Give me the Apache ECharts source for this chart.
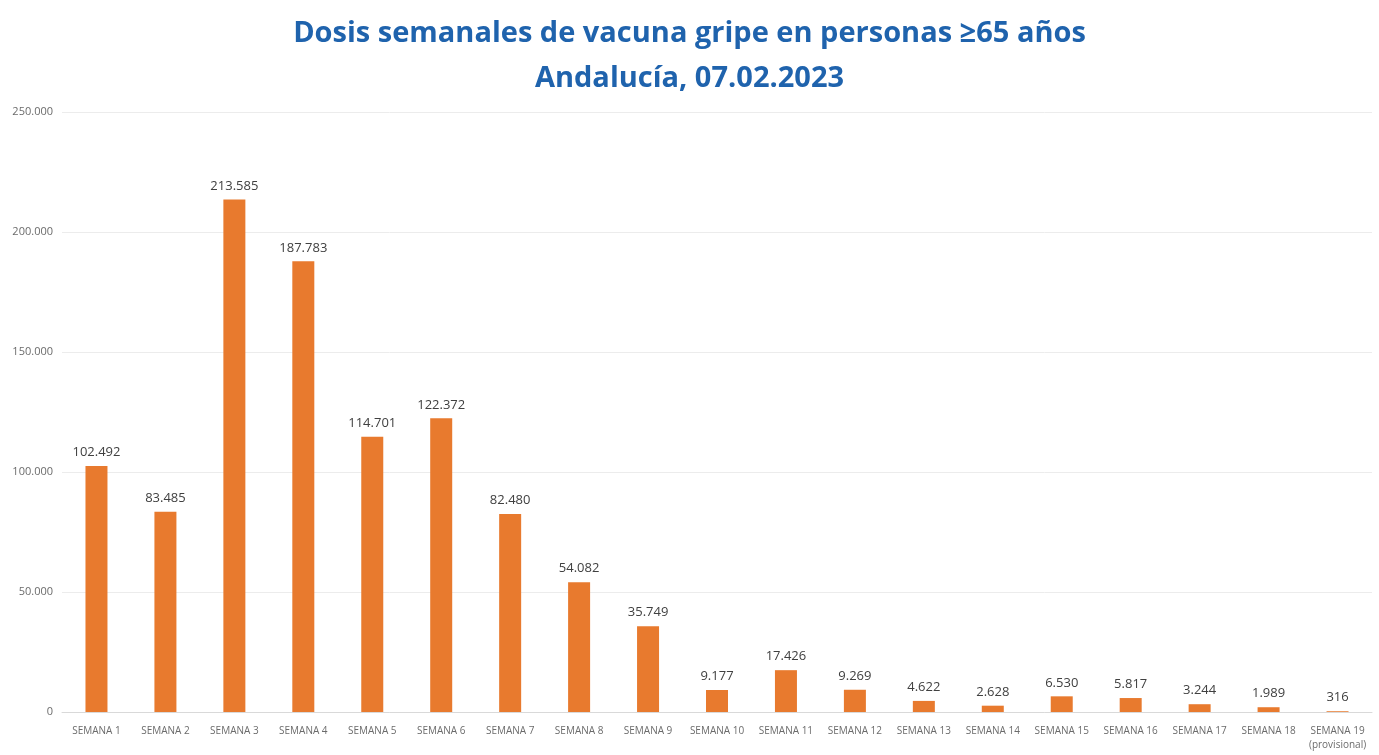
<!DOCTYPE html>
<html>
<head>
<meta charset="utf-8">
<title>Dosis semanales de vacuna gripe</title>
<script src="https://cdn.jsdelivr.net/npm/echarts@6/dist/echarts.min.js"></script>
<style>
  html, body { margin: 0; padding: 0; background: #fff; }
  #chartDosis { width: 1379px; height: 755px; }
</style>
</head>
<body>
<div id="chartDosis"></div>
<script>
// weeks and weekly doses (>=65 years)
const _SEMANAS = ['SEMANA 1', 'SEMANA 2', 'SEMANA 3', 'SEMANA 4', 'SEMANA 5', 'SEMANA 6',
  'SEMANA 7', 'SEMANA 8', 'SEMANA 9', 'SEMANA 10', 'SEMANA 11', 'SEMANA 12', 'SEMANA 13',
  'SEMANA 14', 'SEMANA 15', 'SEMANA 16', 'SEMANA 17', 'SEMANA 18', 'SEMANA 19\n(provisional)']
const _DOSIS = [102492, 83485, 213585, 187783, 114701, 122372, 82480, 54082, 35749,
  9177, 17426, 9269, 4622, 2628, 6530, 5817, 3244, 1989, 316]
const _Y_TICKS = [0, 50000, 100000, 150000, 200000, 250000]

// spanish thousands separator
function miles(v) {
  return String(v).replace(/\B(?=(\d{3})+(?!\d))/g, '.')
}

var myChart = echarts.init(document.getElementById('chartDosis'));

myChart.setOption({
  backgroundColor: '#ffffff',
  textStyle: {
    fontFamily: 'Open Sans'
  },
  title: {
    text: 'Dosis semanales de vacuna gripe en personas ≥65 años\nAndalucía, 07.02.2023',
    left: 'center',
    top: 6,
    textStyle: {
      color: '#1f63ad',
      fontSize: 29,
      fontWeight: 'bold',
      fontFamily: 'Open Sans',
      lineHeight: 45,
    },
  },
  grid: {
    left: 62,
    right: 7,
    top: 112,
    bottom: 43,
    containLabel: false
  },
  xAxis: {
    type: 'category',
    data: _SEMANAS,
    axisTick: { show: false },
    axisLine: {
      lineStyle: { color: '#d9d9d9', width: 1 }
    },
    axisLabel: {
      interval: 0,
      color: '#6b6b6b',
      fontSize: 10,
      margin: 12,
      lineHeight: 14
    }
  },
  yAxis: {
    type: 'value',
    min: _Y_TICKS[0],
    max: _Y_TICKS[_Y_TICKS.length - 1],
    interval: _Y_TICKS[1] - _Y_TICKS[0],
    axisLine: { show: false },
    axisTick: { show: false },
    splitLine: {
      lineStyle: { color: '#ececec', width: 1 }
    },
    axisLabel: {
      color: '#6b6b6b',
      fontSize: 11,
      margin: 9,
      formatter: miles
    }
  },
  series: [
    {
      name: 'dosis',
      type: 'bar',
      data: _DOSIS,
      barWidth: 22,
      itemStyle: { color: '#e87a2e' },
      label: {
        show: true,
        position: 'top',
        distance: 7,
        color: '#404040',
        fontSize: 13,
        formatter: function (p) { return miles(p.value) }
      }
    }
  ],
});
</script>
</body>
</html>
